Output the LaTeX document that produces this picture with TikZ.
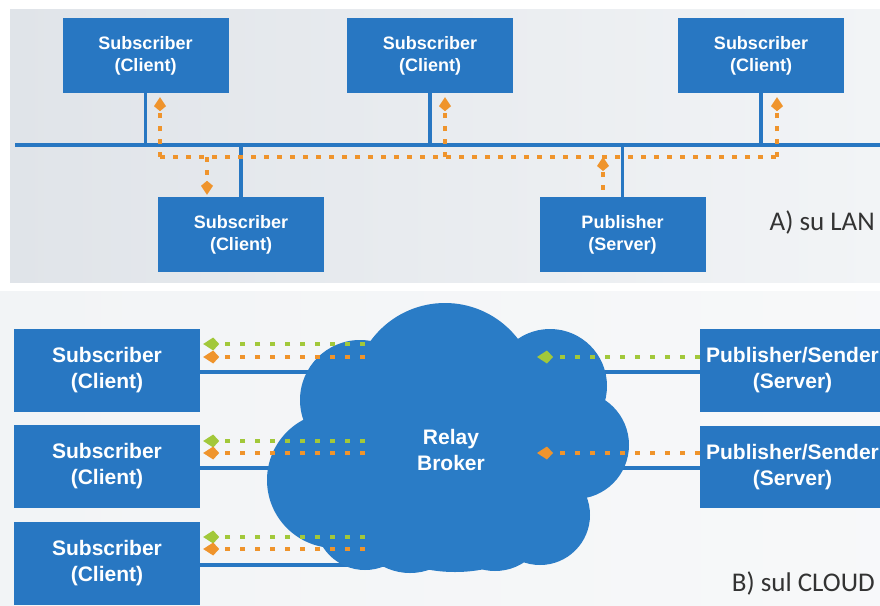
\documentclass[tikz,border=0pt]{standalone}
\usepackage{fontspec}
\setmainfont{Liberation Sans}
\newfontfamily\labelfont{Carlito}
\usetikzlibrary{arrows.meta}

\definecolor{boxblue}{HTML}{2877C2}
\definecolor{cloudblue}{HTML}{2A7CC6}
\definecolor{flowor}{HTML}{EF942C}
\definecolor{flowgr}{HTML}{A2C83A}
\definecolor{labelgray}{HTML}{333333}
\definecolor{panelA}{HTML}{E0E4E9}
\definecolor{panelB}{HTML}{F2F4F6}

\tikzset{
  box/.style={fill=boxblue, text=white, align=center, inner sep=0pt,
    font=\fontsize{18}{22}\selectfont\bfseries,
    minimum width=166pt, minimum height=75pt},
  bigbox/.style={box, font=\fontsize{21}{26}\selectfont\bfseries,
    minimum width=186pt, minimum height=83pt},
  wire/.style={draw=boxblue, line width=3.5pt},
  lanline/.style={draw=flowor, line width=4.5pt, dash pattern=on 5pt off 8pt},
  lanflow/.style={lanline, -{Kite[length=14pt,width=12pt,inset=5pt]}},
  cloudflow/.style={line width=4.5pt, dash pattern=on 5pt off 10pt,
    -{Kite[length=16pt,width=13pt,inset=6pt]}},
  caption/.style={font=\labelfont\fontsize{27}{30}\selectfont, text=labelgray, inner sep=0pt}
}

\begin{document}
\begin{tikzpicture}[x=1pt, y=-1pt]
\useasboundingbox (0,0) rectangle (880,605);
\fill[white] (0,0) rectangle (880,605);

% panel backgrounds
\fill[left color=panelA, middle color=white, right color=panelB] (10,9) rectangle (880,282);
\fill[left color=panelB, middle color=white, right color=panelB!60!white] (0,291) rectangle (880,605);

% ---------------- A) LAN ----------------
\node[box] (sub1) at (145.5,55.5) {Subscriber\\(Client)};
\node[box] (sub2) at (430,55.5) {Subscriber\\(Client)};
\node[box] (sub3) at (761,55.5) {Subscriber\\(Client)};
\node[box] (sub4) at (241,234.5) {Subscriber\\(Client)};
\node[box] (pub)  at (622.5,234.5) {Publisher\\(Server)};

\coordinate (busL) at (15,145);
\coordinate (busR) at (880,145);
\draw[wire] (busL) -- (busR);
\foreach \n in {sub1,sub2,sub3} \draw[wire] (\n.south) -- (\n.south |- busL);
\foreach \n in {sub4,pub} \draw[wire] (\n.north) -- (\n.north |- busL);

% message flow on the LAN
\coordinate (fA) at (160,157);
\coordinate (fB) at (207,157);
\coordinate (fC) at (445,157);
\coordinate (fE) at (777,157);
\coordinate (fP) at (603,157);
\draw[lanline] (fA) -- (fE);
\draw[lanflow, shorten >=4pt] (fA) -- (fA |- sub1.south);
\draw[lanflow, shorten >=4pt] (fC) -- (fC |- sub2.south);
\draw[lanflow, shorten >=4pt] (fE) -- (fE |- sub3.south);
\draw[lanflow, shorten >=2pt] (fB) -- (fB |- sub4.north);
\draw[lanflow, shorten <=7pt] (fP |- pub.north) -- (fP);

\node[caption, anchor=east] (lanlabel) at (875,222) {A) su LAN};

% ---------------- B) CLOUD ----------------
\node[bigbox] (bs1) at (107,370.5) {Subscriber\\(Client)};
\node[bigbox] (bs2) at (107,466.5) {Subscriber\\(Client)};
\node[bigbox] (bs3) at (107,563) {Subscriber\\(Client)};
\node[bigbox, minimum width=185pt] (bp1) at (792.5,370.5) {Publisher/Sender\\(Server)};
\node[bigbox, minimum width=185pt, minimum height=82pt] (bp2) at (792.5,467) {Publisher/Sender\\(Server)};

\coordinate (core) at (450,450);
\coordinate (coreLow) at (400,565);
\draw[wire] (bs1.east |- 0,372) -- (core |- 0,372);
\draw[wire] (bs2.east |- 0,468) -- (core |- 0,468);
\draw[wire] (bs3.east |- coreLow) -- (coreLow);
\draw[wire] (bp1.west |- 0,372) -- (core |- 0,372);
\draw[wire] (bp2.west |- 0,468) -- (core |- 0,468);

% relay broker cloud, built from overlapping lobes
\fill[cloudblue]
  (445,395) circle[radius=92]   % top dome
  (550,386) circle[radius=57]   % upper right
  (575,445) circle[radius=54]   % right
  (540,515) circle[radius=50]   % lower right
  (495,518) circle[radius=53]   % bottom right
  (410,515) circle[radius=58]   % bottom left
  (365,520) circle[radius=50]   % lower left
  (335,480) circle[radius=68]   % left
  (360,400) circle[radius=60]   % upper left
  (455,530) ellipse[x radius=80, y radius=42] % flat underside
  (450,450) circle[radius=100]; % body
\node[font=\fontsize{21}{26}\selectfont\bfseries, text=white, align=center] (broker) at (451,450) {Relay\\Broker};

% flows from the broker to the subscribers
\foreach \n/\g/\o in {bs1/344/357, bs2/441/453, bs3/537/549}{
  \draw[cloudflow, flowgr, shorten >=3pt] (365,\g) -- (\n.east |- 0,\g);
  \draw[cloudflow, flowor, shorten >=3pt] (365,\o) -- (\n.east |- 0,\o);
}
% flows from the publishers into the broker
\coordinate (inG) at (537,357);
\coordinate (inO) at (537,453);
\draw[cloudflow, flowgr] (bp1.west |- inG) -- (inG);
\draw[cloudflow, flowor] (bp2.west |- inO) -- (inO);

\node[caption, anchor=east] (cloudlabel) at (875,583) {B) sul CLOUD};
\end{tikzpicture}
\end{document}
